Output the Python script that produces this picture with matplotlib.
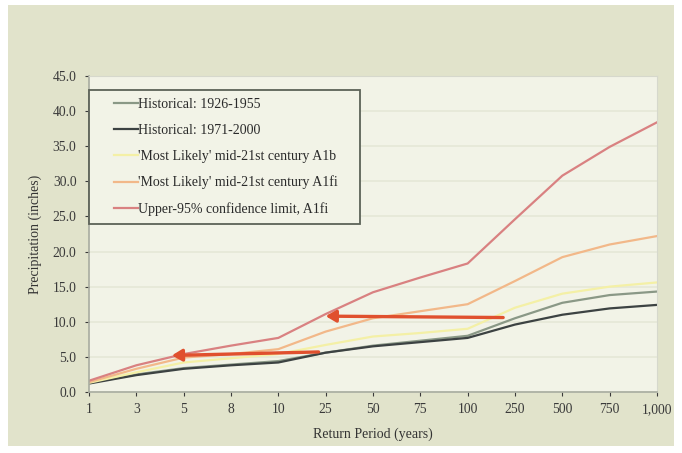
import numpy as np
import matplotlib
matplotlib.use("Agg")
import matplotlib.pyplot as plt
from matplotlib.patches import Rectangle
from matplotlib.legend_handler import HandlerLine2D

# return periods (category axis)
periods = ["1", "3", "5", "8", "10", "25", "50", "75", "100", "250", "500", "750", "1,000"]

hist_1926 = [1.3, 2.5, 3.4, 3.9, 4.4, 5.6, 6.6, 7.3, 8.0, 10.5, 12.7, 13.8, 14.3]
hist_1971 = [1.2, 2.4, 3.3, 3.8, 4.2, 5.6, 6.5, 7.1, 7.7, 9.6, 11.0, 11.9, 12.4]
a1b_likely = [1.3, 2.8, 4.2, 4.8, 5.4, 6.7, 7.9, 8.4, 9.0, 12.0, 14.0, 15.0, 15.6]
a1fi_likely = [1.4, 3.3, 4.9, 5.4, 6.1, 8.6, 10.5, 11.5, 12.5, 15.8, 19.2, 21.0, 22.2]
a1fi_upper95 = [1.6, 3.8, 5.4, 6.6, 7.7, 11.1, 14.2, 16.3, 18.3, 24.6, 30.8, 34.9, 38.4]

labels = ["Historical: 1926-1955",
          "Historical: 1971-2000",
          "'Most Likely' mid-21st century A1b",
          "'Most Likely' mid-21st century A1fi",
          "Upper-95% confidence limit, A1fi"]
colors = ["#8a9886", "#3c4242", "#f4f0a6", "#f2b889", "#d98181"]

# arrows: (tail x, tail y) -> (head x, head y), in category / value units
arrow_tails = [(8.75, 10.6), (4.85, 5.7)]
arrow_heads = [(5.0, 10.8), (1.75, 5.2)]

plt.rcParams['font.family'] = ['Liberation Serif', 'DejaVu Serif']

fig = plt.figure(figsize=(6.82, 4.53), dpi=100)
fig.patch.set_facecolor("white")
# greenish panel behind everything
fig.patches.append(Rectangle((0.0117, 0.0155), 0.977, 0.973, transform=fig.transFigure,
                             facecolor="#e1e3cb", edgecolor="none", zorder=-10))

ax = fig.add_axes([0.1305, 0.1347, 0.8328, 0.6976])
ax.set_facecolor("#f2f3e7")

x = np.arange(len(periods))
series = [hist_1926, hist_1971, a1b_likely, a1fi_likely, a1fi_upper95]
for vals, lab, col in zip(series, labels, colors):
    ax.plot(x, vals, color=col, lw=1.6, label=lab)

for (tx, ty), (hx, hy) in zip(arrow_tails, arrow_heads):
    ax.annotate("", xy=(hx, hy), xytext=(tx, ty),
                arrowprops=dict(arrowstyle="-|>,head_length=0.6,head_width=0.35",
                                color="#e0502e", lw=2.4, shrinkA=0, shrinkB=0))

ax.set_xlim(0, len(periods) - 1)
ax.set_ylim(0, 45)
ax.set_xticks(x)
ax.set_xticklabels(periods)
ax.set_yticks(np.arange(0, 46, 5))
ax.set_yticklabels([f"{v:.1f}" for v in np.arange(0, 46, 5)])
ax.tick_params(axis="both", labelsize=9.8, colors="#3a3a3a", length=3, width=0.8)
ax.tick_params(axis="x", pad=5)
ax.tick_params(axis="y", pad=6)
ax.grid(axis="y", color="#e5e7d7", lw=1.2)
ax.set_axisbelow(True)
for side in ["left", "bottom"]:
    ax.spines[side].set_color("#a8aca0")
    ax.spines[side].set_linewidth(1.2)
for side in ["top", "right"]:
    ax.spines[side].set_color("#d6d8cc")

ax.set_xlabel("Return Period (years)", fontsize=10, color="#333333", labelpad=8)
ax.set_ylabel("Precipitation (inches)", fontsize=10, color="#333333", labelpad=8)

# handles drawn a bit in from the box edge, as in the original legend
hmap = {h: HandlerLine2D(xpad=1.2) for h in ax.get_lines()}
leg = ax.legend(loc="upper left", bbox_to_anchor=(0, 0.4, 0.477, 0.557), mode="expand",
                borderaxespad=0, fontsize=10, handlelength=2.9, handletextpad=0.05,
                labelspacing=0.93, fancybox=False, frameon=True, borderpad=0.6,
                handler_map=hmap)
leg.get_frame().set_edgecolor("#5c6258")
leg.get_frame().set_linewidth(1.3)
leg.get_frame().set_facecolor("#f2f3e7")
leg.get_frame().set_alpha(1)
for t in leg.get_texts():
    t.set_color("#2a2a2a")

fig.savefig("out.png", dpi=100, facecolor=fig.get_facecolor())
